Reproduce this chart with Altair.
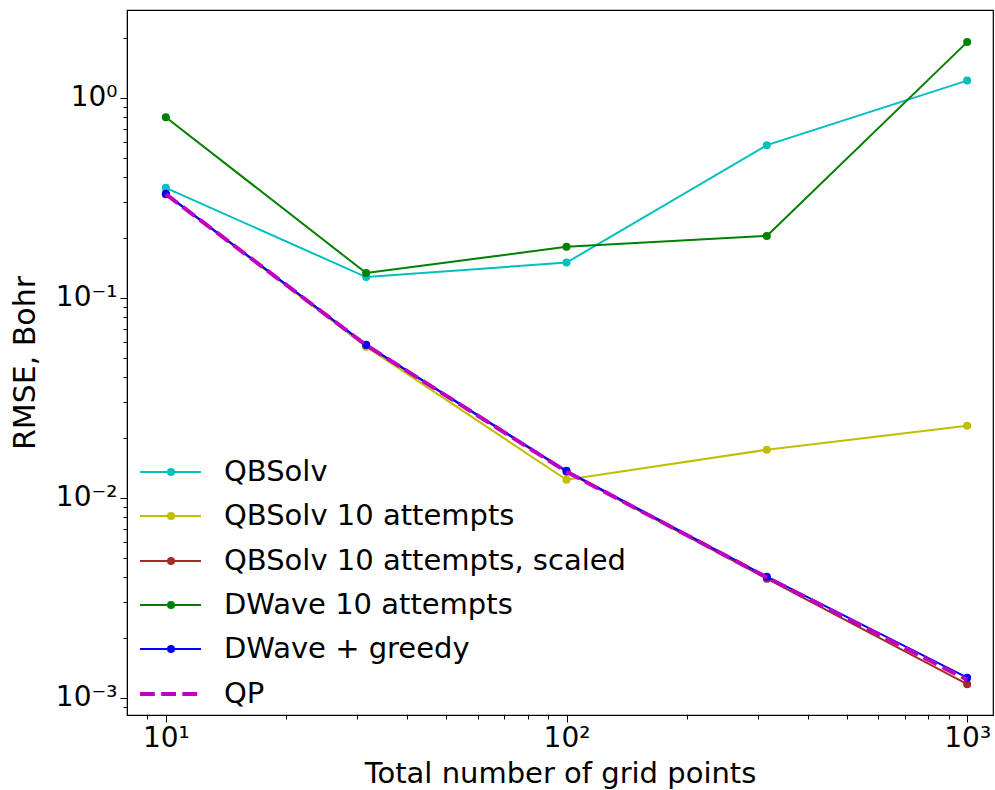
import altair as alt
import pandas as pd

# ---- data ----
grid_points = [10, 31.62, 100, 316.2, 1000]
qbsolv = [0.355, 0.127, 0.150, 0.58, 1.22]
qbsolv10 = [0.33, 0.057, 0.0123, 0.0174, 0.0229]
qbsolv10_scaled = [0.33, 0.058, 0.0135, 0.00394, 0.00117]
dwave10 = [0.80, 0.133, 0.180, 0.204, 1.90]
dwave_greedy = [0.331, 0.0582, 0.01365, 0.00403, 0.00126]
qp = [0.33, 0.058, 0.0135, 0.0040, 0.00123]

series_names = ["QBSolv", "QBSolv 10 attempts", "QBSolv 10 attempts, scaled",
                "DWave 10 attempts", "DWave + greedy", "QP"]
series_values = [qbsolv, qbsolv10, qbsolv10_scaled, dwave10, dwave_greedy, qp]
series_colors = ["#00bfbf", "#bfbf00", "#a52a2a", "#008000", "#0000ff", "#bf00bf"]
series_markers = [True, True, True, True, True, False]

x_major = [10, 100, 1000]
x_minor = [9, 20, 30, 40, 50, 60, 70, 80, 90, 200, 300, 400, 500, 600, 700, 800, 900]
y_major = [0.001, 0.01, 0.1, 1]
y_minor = [0.0009, 0.002, 0.003, 0.004, 0.005, 0.006, 0.007, 0.008, 0.009,
           0.02, 0.03, 0.04, 0.05, 0.06, 0.07, 0.08, 0.09,
           0.2, 0.3, 0.4, 0.5, 0.6, 0.7, 0.8, 0.9, 2]

W, H = 866, 705
FONT = "DejaVu Sans"

x_scale = alt.Scale(type="log", domain=[8.0, 1160], nice=False)
y_scale = alt.Scale(type="log", domain=[8.2e-4, 2.75], nice=False)

x_label_expr = ("datum.value == 10 ? '10\u00b9' : datum.value == 100 ? '10\u00b2' : "
                "datum.value == 1000 ? '10\u00b3' : ''")
y_label_expr = ("datum.value == 1 ? '10\u2070' : datum.value == 0.1 ? '10\u207b\u00b9' : "
                "datum.value == 0.01 ? '10\u207b\u00b2' : datum.value == 0.001 ? '10\u207b\u00b3' : ''")

x_axis = alt.Axis(
    values=sorted(x_major + x_minor), labelExpr=x_label_expr,
    title="Total number of grid points", grid=False,
    tickSize={"condition": {"test": "indexof([10,100,1000], datum.value) >= 0", "value": 7}, "value": 4},
    tickColor="black", domainColor="black", labelColor="black",
    labelFont=FONT, labelFontSize=28, labelPadding=2, labelFlush=False,
    titleFont=FONT, titleFontSize=29, titleFontWeight="normal", titleColor="black",
    titlePadding=7,
)
y_axis = alt.Axis(
    values=sorted(y_major + y_minor), labelExpr=y_label_expr,
    title="RMSE, Bohr", grid=False,
    tickSize={"condition": {"test": "indexof([0.001,0.01,0.1,1], datum.value) >= 0", "value": 7}, "value": 4},
    tickColor="black", domainColor="black", labelColor="black",
    labelFont=FONT, labelFontSize=28, labelPadding=3, labelFlush=False,
    titleFont=FONT, titleFontSize=30, titleFontWeight="normal", titleColor="black",
    titlePadding=15,
)

layers = []
for name, vals, col, mk in zip(series_names, series_values, series_colors, series_markers):
    df = pd.DataFrame({"x": grid_points, "y": vals, "series": name})
    base = alt.Chart(df)
    enc = dict(
        x=alt.X("x:Q", scale=x_scale, axis=x_axis),
        y=alt.Y("y:Q", scale=y_scale, axis=y_axis),
    )
    if name == "QP":
        line = base.mark_line(color=col, strokeWidth=4, strokeDash=[14.8, 6.4]).encode(**enc)
    else:
        line = base.mark_line(color=col, strokeWidth=2).encode(**enc)
    layers.append(line)
    if mk:
        layers.append(base.mark_circle(color=col, size=64, opacity=1).encode(**enc))

# ---- legend (manual, matplotlib style) ----
legend_y = [462, 506, 551, 595, 639, 684]
for name, col, mk, ly in zip(series_names, series_colors, series_markers, legend_y):
    ldf = pd.DataFrame({"label": [name]})
    lb = alt.Chart(ldf)
    if name == "QP":
        layers.append(lb.mark_rule(color=col, strokeWidth=4, strokeDash=[14.8, 6.4]).encode(
            x=alt.value(13), x2=alt.value(74), y=alt.value(ly)))
    else:
        layers.append(lb.mark_rule(color=col, strokeWidth=2).encode(
            x=alt.value(13), x2=alt.value(74), y=alt.value(ly)))
    if mk:
        layers.append(lb.mark_circle(color=col, size=64, opacity=1).encode(
            x=alt.value(44), y=alt.value(ly)))
    layers.append(lb.mark_text(align="left", baseline="middle", font=FONT, fontSize=29,
                               color="black").encode(
        x=alt.value(97), y=alt.value(ly), text="label:N"))

chart = alt.layer(*layers).properties(
    width=W, height=H,
    autosize=alt.AutoSizeParams(type="none"),
    padding={"left": 127, "top": 10, "right": 2, "bottom": 75},
    background="white",
).configure_view(stroke="black", strokeWidth=1.2)

chart.save("out.html", embed_options={"renderer": "svg", "actions": False})
